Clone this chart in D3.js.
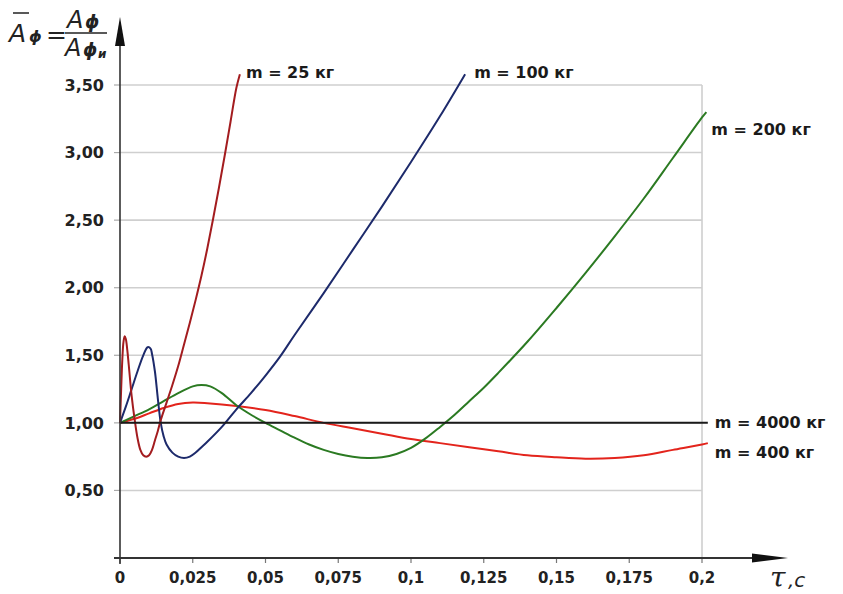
<!DOCTYPE html>
<html>
<head>
<meta charset="utf-8">
<script src="https://cdn.jsdelivr.net/npm/d3@7/dist/d3.min.js"></script>
<style>
  body { margin: 0; background: #fff; }
  svg { display: block; }
  text { font-family: "DejaVu Sans", "Liberation Sans", sans-serif; }
</style>
</head>
<body>
<div id="chart"></div>
<script>
// tick values / labels
const yTicks = [0.5, 1.0, 1.5, 2.0, 2.5, 3.0, 3.5];
const xTicks = [0, 0.025, 0.05, 0.075, 0.1, 0.125, 0.15, 0.175, 0.2];
const xTickLabels = ["0", "0,025", "0,05", "0,075", "0,1", "0,125", "0,15", "0,175", "0,2"];

// m = 25 kg
const tau25 = [0, 0.0004, 0.0008, 0.0012, 0.0016, 0.002, 0.0025, 0.003, 0.004, 0.005, 0.006, 0.007, 0.008, 0.009, 0.010, 0.011, 0.012, 0.013, 0.014, 0.016, 0.018, 0.02, 0.022, 0.024, 0.026, 0.028, 0.03, 0.032, 0.034, 0.036, 0.038, 0.04, 0.0412];
const amp25 = [1.00, 1.25, 1.47, 1.60, 1.64, 1.62, 1.54, 1.43, 1.20, 1.03, 0.89, 0.80, 0.76, 0.75, 0.76, 0.80, 0.87, 0.94, 1.02, 1.15, 1.28, 1.42, 1.58, 1.74, 1.91, 2.09, 2.29, 2.51, 2.74, 2.98, 3.23, 3.48, 3.58];

// m = 100 kg
const tau100 = [0, 0.002, 0.004, 0.006, 0.008, 0.0095, 0.0105, 0.011, 0.012, 0.013, 0.014, 0.015, 0.016, 0.018, 0.02, 0.022, 0.024, 0.026, 0.028, 0.03, 0.035, 0.04, 0.045, 0.05, 0.055, 0.06, 0.07, 0.08, 0.09, 0.1, 0.11, 0.1186];
const amp100 = [1.00, 1.12, 1.25, 1.38, 1.50, 1.56, 1.55, 1.51, 1.38, 1.18, 1.00, 0.90, 0.84, 0.78, 0.75, 0.74, 0.75, 0.78, 0.82, 0.86, 0.97, 1.10, 1.22, 1.35, 1.49, 1.65, 1.96, 2.28, 2.60, 2.93, 3.27, 3.58];

// m = 200 kg
const tau200 = [0, 0.005, 0.01, 0.015, 0.02, 0.025, 0.028, 0.031, 0.035, 0.04, 0.045, 0.05, 0.055, 0.06, 0.065, 0.07, 0.075, 0.08, 0.085, 0.09, 0.095, 0.1, 0.105, 0.11, 0.115, 0.12, 0.125, 0.13, 0.14, 0.15, 0.16, 0.17, 0.18, 0.19, 0.2, 0.2015];
const amp200 = [1.00, 1.05, 1.10, 1.16, 1.22, 1.27, 1.28, 1.27, 1.22, 1.13, 1.06, 1.00, 0.945, 0.89, 0.84, 0.80, 0.77, 0.75, 0.74, 0.745, 0.77, 0.815, 0.885, 0.97, 1.06, 1.16, 1.26, 1.37, 1.60, 1.85, 2.11, 2.38, 2.66, 2.96, 3.26, 3.30];

// m = 400 kg
const tau400 = [0, 0.005, 0.01, 0.015, 0.02, 0.025, 0.03, 0.04, 0.05, 0.06, 0.07, 0.08, 0.09, 0.1, 0.11, 0.12, 0.13, 0.14, 0.15, 0.16, 0.17, 0.18, 0.19, 0.2, 0.202];
const amp400 = [1.00, 1.03, 1.07, 1.11, 1.14, 1.15, 1.145, 1.125, 1.095, 1.05, 1.00, 0.96, 0.92, 0.88, 0.85, 0.82, 0.79, 0.76, 0.745, 0.735, 0.74, 0.76, 0.80, 0.84, 0.85];

// m = 4000 kg
const tau4000 = [0, 0.202];
const amp4000 = [1.00, 1.00];

const seriesNames = ["m = 400 кг", "m = 200 кг", "m = 100 кг", "m = 25 кг", "m = 4000 кг"];
const seriesTau = [tau400, tau200, tau100, tau25, tau4000];
const seriesAmp = [amp400, amp200, amp100, amp25, amp4000];
const seriesColors = ["#e3241c", "#2b7a22", "#1d2a6b", "#a31c1f", "#1a1a1a"];
// label offsets from the last point of each curve
const labelDx = [7, 5, 9, 6, 7];
const labelDy = [15, 23, 4, 4, 5];

const W = 843, H = 594;
const x = d3.scaleLinear().domain([0, 0.2]).range([120, 702]);
const y = d3.scaleLinear().domain([0, 3.5]).range([558, 85]);
const yFmt = d3.formatLocale({ decimal: ",", thousands: " ", grouping: [3], currency: ["", ""] }).format(".2f");

const svg = d3.select("#chart").append("svg").attr("width", W).attr("height", H);

// grid
svg.append("g").selectAll("line").data(yTicks).enter().append("line")
    .attr("x1", x(0)).attr("x2", x(0.2))
    .attr("y1", d => y(d)).attr("y2", d => y(d))
    .style("stroke", "#cfcfcf").style("stroke-width", 1.6);
svg.append("line")
    .attr("x1", x(0.2)).attr("x2", x(0.2))
    .attr("y1", y(3.5)).attr("y2", y(0))
    .style("stroke", "#cfcfcf").style("stroke-width", 1.6);

// y ticks + labels
const yAxis = svg.append("g");
yAxis.selectAll("line").data(yTicks).enter().append("line")
    .attr("x1", x(0) - 6).attr("x2", x(0))
    .attr("y1", d => y(d)).attr("y2", d => y(d))
    .style("stroke", "#aaa").style("stroke-width", 1.2);
yAxis.selectAll("text").data(yTicks).enter().append("text")
    .attr("x", x(0) - 16).attr("y", d => y(d))
    .attr("dy", "0.36em")
    .attr("text-anchor", "end")
    .style("font-size", "16px").style("font-weight", "bold").style("fill", "#222")
    .text(d => yFmt(d));

// x ticks + labels
const xAxis = svg.append("g");
xAxis.selectAll("line").data(xTicks).enter().append("line")
    .attr("x1", d => x(d)).attr("x2", d => x(d))
    .attr("y1", y(0)).attr("y2", y(0) + 5)
    .style("stroke", "#777").style("stroke-width", 1.2);
xAxis.selectAll("text").data(xTicks).enter().append("text")
    .attr("x", d => x(d)).attr("y", y(0) + 25)
    .attr("text-anchor", "middle")
    .style("font-size", "15px").style("font-weight", "bold").style("fill", "#222")
    .text((d, i) => xTickLabels[i]);

// curves
const line = d3.line()
    .x(d => x(d[0]))
    .y(d => y(d[1]))
    .curve(d3.curveCatmullRom.alpha(0.5));

seriesNames.forEach((name, i) => {
    const pts = seriesTau[i].map((t, j) => [t, seriesAmp[i][j]]);
    svg.append("path")
        .datum(pts)
        .attr("d", line)
        .style("fill", "none")
        .style("stroke", seriesColors[i])
        .style("stroke-width", 2);
    const last = pts[pts.length - 1];
    svg.append("text")
        .attr("x", x(last[0]) + labelDx[i])
        .attr("y", y(last[1]) + labelDy[i])
        .style("font-size", "16px").style("font-weight", "bold").style("fill", "#1a1a1a")
        .text(name);
});

// axes with arrows
svg.append("line")
    .attr("x1", x(0)).attr("x2", x(0))
    .attr("y1", y(0) + 6).attr("y2", 44)
    .style("stroke", "#333").style("stroke-width", 1.6);
svg.append("path")
    .attr("d", `M${x(0)},17 L${x(0) - 5},46 L${x(0) + 5},46 Z`)
    .style("fill", "#111");
svg.append("line")
    .attr("x1", x(0) - 6).attr("x2", 756)
    .attr("y1", y(0)).attr("y2", y(0))
    .style("stroke", "#333").style("stroke-width", 2);
svg.append("path")
    .attr("d", `M788,${y(0)} L752,${y(0) - 4.5} L752,${y(0) + 4.5} Z`)
    .style("fill", "#111");

// axis titles
svg.append("text")
    .attr("x", 770).attr("y", 587)
    .style("font-family", "'DejaVu Serif', serif").style("font-style", "italic")
    .style("font-size", "28px").style("fill", "#222")
    .text("τ");
svg.append("text")
    .attr("x", 788).attr("y", 587)
    .style("font-style", "italic").style("font-size", "20px").style("fill", "#222")
    .text(",c");

const ttl = svg.append("g").style("font-style", "italic").style("fill", "#222")
    .style("font-family", "'Liberation Sans', Arial, sans-serif");
ttl.append("text").attr("x", 9).attr("y", 42).style("font-size", "25px").text("A");
ttl.append("line").attr("x1", 13).attr("x2", 29).attr("y1", 13).attr("y2", 13)
    .style("stroke", "#222").style("stroke-width", 1.5);
ttl.append("text").attr("x", 29).attr("y", 42).style("font-size", "16px").style("font-weight", "bold").text("ϕ");
ttl.append("text").attr("x", 46).attr("y", 43).style("font-style", "normal").style("font-size", "25px").text("=");
ttl.append("text").attr("x", 67).attr("y", 28).style("font-size", "24px").text("A");
ttl.append("text").attr("x", 85).attr("y", 28).style("font-size", "18px").style("font-weight", "bold").text("ϕ");
ttl.append("line").attr("x1", 65).attr("x2", 107).attr("y1", 33).attr("y2", 33)
    .style("stroke", "#222").style("stroke-width", 1.5);
ttl.append("text").attr("x", 65).attr("y", 56).style("font-size", "24px").text("A");
ttl.append("text").attr("x", 83).attr("y", 56).style("font-size", "18px").style("font-weight", "bold").text("ϕ");
ttl.append("text").attr("x", 98).attr("y", 58).style("font-size", "12px").style("font-weight", "bold").text("и");
</script>
</body>
</html>
